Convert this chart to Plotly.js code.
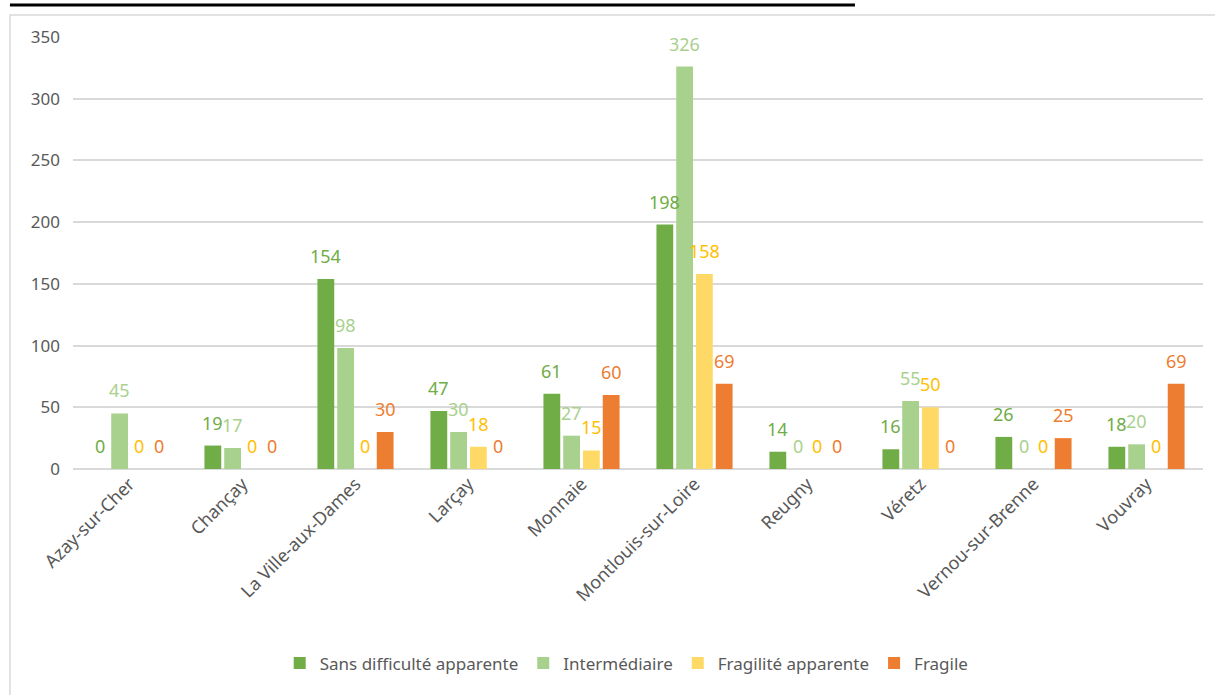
<!DOCTYPE html>
<html>
<head>
<meta charset="utf-8">
<script src="https://cdn.plot.ly/plotly-3.0.1.min.js"></script>
<style>html,body{margin:0;padding:0;background:#fff;}#chart{width:1215px;height:695px;}</style>
</head>
<body>
<div id="chart"></div>
<script>
const communes = ["Azay-sur-Cher","Chançay","La Ville-aux-Dames","Larçay","Monnaie","Montlouis-sur-Loire","Reugny","Véretz","Vernou-sur-Brenne","Vouvray"];
const sansDifficulte = [0,19,154,47,61,198,14,16,26,18];
const intermediaire = [45,17,98,30,27,326,0,55,0,20];
const fragiliteApparente = [0,0,0,18,15,158,0,50,0,0];
const fragile = [0,0,30,0,60,69,0,0,25,69];
const seriesNames = ["Sans difficulté apparente","Intermédiaire","Fragilité apparente","Fragile"];
const yTicks = [0,50,100,150,200,250,300,350];

const font = "Noto Sans, sans-serif";
const barColors = ["#70AD47","#A9D18E","#FFD966","#ED7D31"];
const textColors = ["#70AD47","#A9D18E","#FFC000","#ED7D31"];
const values = [sansDifficulte, intermediaire, fragiliteApparente, fragile];

const W = 1215, H = 695;
const margin = {l:73, r:12, t:37, b:226};
const bargap = 0.3, bargroupgap = 0.15;
const plotW = W - margin.l - margin.r;
const catW = plotW / communes.length;
const slot = catW * (1 - bargap) / values.length;

const traces = values.map((v,i)=>({
  type:"bar", x:communes, y:v, name:seriesNames[i],
  marker:{color:barColors[i]},
  hoverinfo:"x+y+name"
}));

const annotations = [];
values.forEach((v,i)=>{
  v.forEach((val,j)=>{
    annotations.push({
      xref:"x", yref:"y", x:communes[j], y:val,
      text:String(val), showarrow:false,
      xanchor:"center", yanchor:"bottom",
      xshift:(i - (values.length-1)/2) * slot, yshift:9,
      font:{family:font, size:18, color:textColors[i]}
    });
  });
});

const layout = {
  width:W, height:H,
  margin:margin,
  paper_bgcolor:"#fff", plot_bgcolor:"#fff",
  barmode:"group", bargap:bargap, bargroupgap:bargroupgap,
  font:{family:font, size:16, color:"#595959"},
  xaxis:{tickangle:-45, tickfont:{family:font, size:18, color:"#595959"}, showgrid:false, zeroline:false, showline:false, ticks:"", automargin:false},
  yaxis:{range:[0,350], tickvals:yTicks, ticktext:yTicks.map(String), gridcolor:"#D9D9D9", gridwidth:1.5, zeroline:true, zerolinecolor:"#D9D9D9", zerolinewidth:1.5, tickfont:{family:font, size:17, color:"#595959"}, ticks:"", ticklabelstandoff:12, automargin:false},
  showlegend:true,
  legend:{orientation:"h", x:0.49, xanchor:"center", y:-0.45, yanchor:"middle", font:{family:font, size:17, color:"#595959"}, itemwidth:30, traceorder:"normal"},
  annotations:annotations,
  shapes:[
    {type:"rect", xref:"paper", yref:"paper", x0:-0.0558, x1:1.03, y0:-0.53, y1:1.051, line:{color:"#D9D9D9", width:1.5}, layer:"below"},
    {type:"line", xref:"paper", yref:"paper", x0:-0.0558, x1:0.692, y0:1.074, y1:1.074, line:{color:"#000", width:3}}
  ]
};
Plotly.newPlot("chart", traces, layout, {displayModeBar:false});
</script>
</body>
</html>
